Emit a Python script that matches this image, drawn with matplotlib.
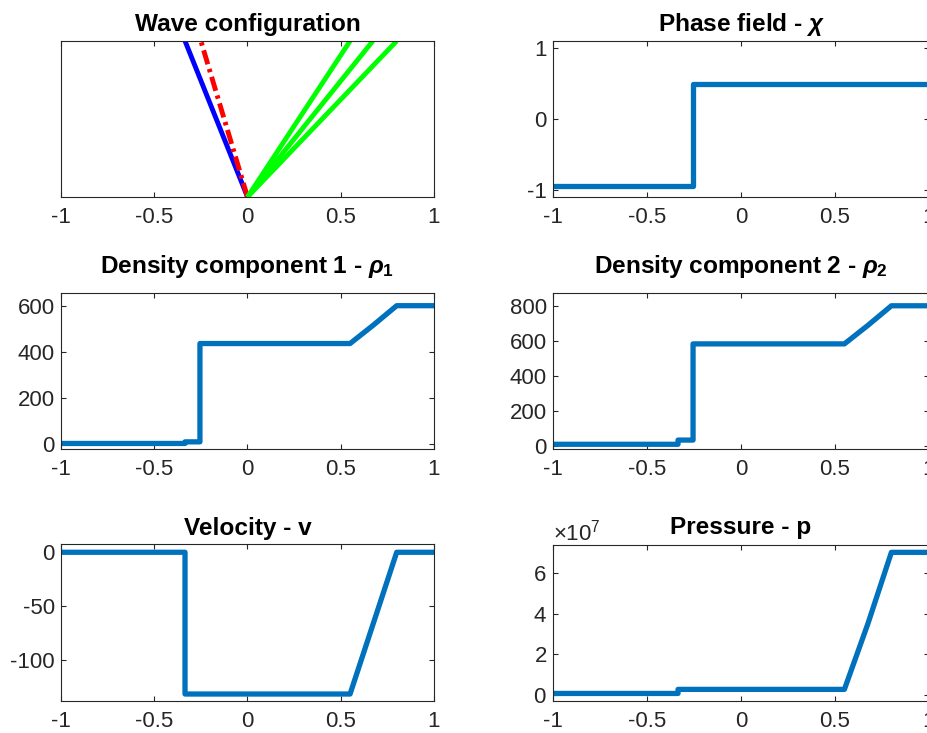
import matplotlib
matplotlib.use("Agg")
import matplotlib.pyplot as plt
from matplotlib.ticker import ScalarFormatter

plt.rcParams['font.family'] = ['Liberation Sans', 'DejaVu Sans']
plt.rcParams['mathtext.fontset'] = 'custom'
plt.rcParams['mathtext.rm'] = 'Liberation Sans'
plt.rcParams['mathtext.it'] = 'Liberation Sans:italic:bold'
plt.rcParams['mathtext.bf'] = 'Liberation Sans:bold'
plt.rcParams['axes.unicode_minus'] = False

# ---------------- data ----------------
# wave speeds (slopes in the x-t diagram)
shock_speed = -0.335
contact_speed = -0.25
rarefaction_speeds = [0.55, 0.672, 0.80]

# solution profiles at the final time
x_prof = [-1.0, -0.335, -0.335, -0.255, -0.255, 0.55, 0.675, 0.80, 1.0]
chi = [-0.94, -0.94, -0.94, -0.94, 0.49, 0.49, 0.49, 0.49, 0.49]
rho1 = [3, 3, 10, 10, 436, 436, 516, 600, 600]
rho2 = [8, 8, 32, 32, 582, 582, 688, 800, 800]
vel = [0, 0, -132, -132, -132, -132, -66, 0, 0]
pres = [8e5, 8e5, 2.8e6, 2.8e6, 2.8e6, 2.8e6, 3.5e7, 7.0e7, 7.0e7]

xticks = [-1, -0.5, 0, 0.5, 1]
xtick_labels = ['-1', '-0.5', '0', '0.5', '1']

# ---------------- layout ----------------
W, H = 927, 733
fig = plt.figure(figsize=(W / 100, H / 100), dpi=100)

def make_ax(left, top, right, bottom):
    return fig.add_axes([left / W, 1 - bottom / H, (right - left) / W, (bottom - top) / H])

ax_wave = make_ax(61, 41, 434, 197)
ax_chi = make_ax(553, 41, 929, 197)
ax_r1 = make_ax(61, 293, 434, 449)
ax_r2 = make_ax(553, 293, 929, 449)
ax_v = make_ax(61, 544, 434, 701)
ax_p = make_ax(553, 545, 929, 701)

tick_col = '#262626'
blue = '#0072BD'
LW = 3.8
TFS = 17.6
FS = 16

def style(ax):
    ax.set_xlim(-1, 1)
    ax.set_xticks(xticks)
    ax.set_xticklabels(xtick_labels)
    ax.tick_params(direction='in', length=3.5, width=0.8, colors=tick_col,
                   labelsize=FS, top=True, right=True, labelcolor=tick_col)
    ax.tick_params(axis='x', pad=7)
    ax.tick_params(axis='y', pad=4.5)
    for s in ax.spines.values():
        s.set_color(tick_col)
        s.set_linewidth(0.8)

# Wave configuration
ax_wave.plot([0, shock_speed], [0, 1], color='#0000FF', lw=3.5, solid_capstyle='butt')
ax_wave.plot([0, contact_speed], [0, 1], color='#FF0000', lw=3.5,
             linestyle=(0, (3, 1.0, 0.7, 1.0)), dash_capstyle='butt')
for s in rarefaction_speeds:
    ax_wave.plot([0, s], [0, 1], color='#00FF00', lw=3.5, solid_capstyle='butt')
style(ax_wave)
ax_wave.set_ylim(0, 1)
ax_wave.set_yticks([])
ax_wave.set_title('Wave configuration', fontsize=TFS, fontweight='bold', pad=7.2)

# Phase field
ax_chi.plot(x_prof, chi, color=blue, lw=LW)
style(ax_chi)
ax_chi.set_ylim(-1.1, 1.1)
ax_chi.set_yticks([-1, 0, 1])
ax_chi.set_title(r'Phase field - $\chi$', fontsize=TFS, fontweight='bold', pad=7.2)

# Density 1
ax_r1.plot(x_prof, rho1, color=blue, lw=LW)
style(ax_r1)
ax_r1.set_ylim(-21, 655)
ax_r1.set_yticks([0, 200, 400, 600])
ax_r1.set_title(r'Density component 1 - $\rho_\mathbf{1}$', fontsize=TFS, fontweight='bold', pad=14.4)

# Density 2
ax_r2.plot(x_prof, rho2, color=blue, lw=LW)
style(ax_r2)
ax_r2.set_ylim(-19, 873)
ax_r2.set_yticks([0, 200, 400, 600, 800])
ax_r2.set_title(r'Density component 2 - $\rho_\mathbf{2}$', fontsize=TFS, fontweight='bold', pad=14.4)

# Velocity
ax_v.plot(x_prof, vel, color=blue, lw=LW)
style(ax_v)
ax_v.set_ylim(-138.5, 7.7)
ax_v.set_yticks([-100, -50, 0])
ax_v.set_title('Velocity - v', fontsize=TFS, fontweight='bold', pad=6.8)

# Pressure
ax_p.plot(x_prof, pres, color=blue, lw=LW)
style(ax_p)
ax_p.set_ylim(-0.29e7, 7.36e7)
ax_p.set_yticks([0, 2e7, 4e7, 6e7])
fmt = ScalarFormatter(useMathText=True)
ax_p.yaxis.set_major_formatter(fmt)
ax_p.yaxis.get_offset_text().set_fontsize(FS)
ax_p.yaxis.get_offset_text().set_color(tick_col)
ax_p.set_title('Pressure - p', fontsize=TFS, fontweight='bold', pad=7.6)

fig.savefig('out.png', dpi=100)
